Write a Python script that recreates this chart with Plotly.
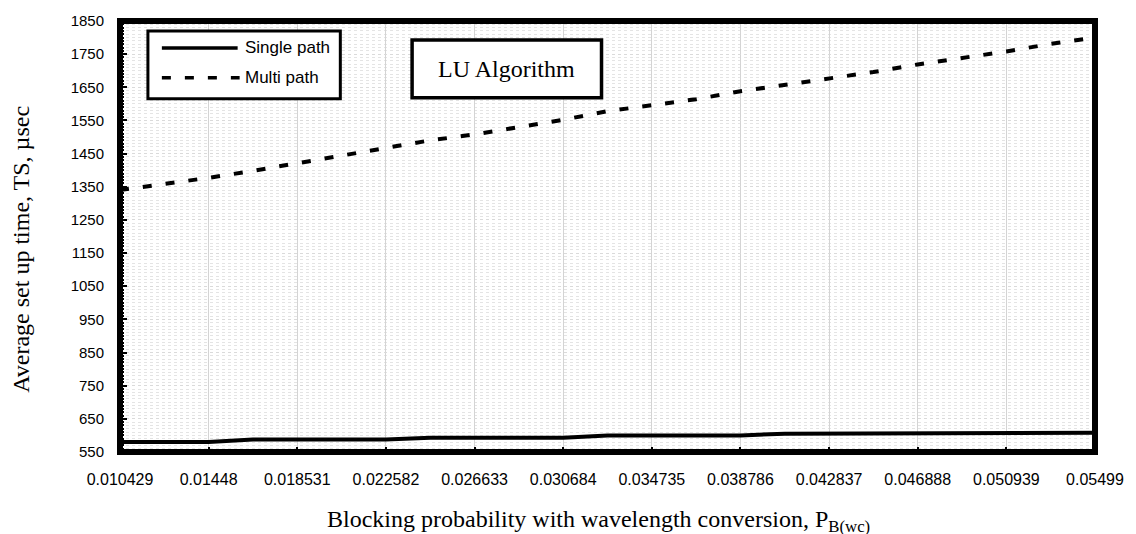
import plotly.graph_objects as go

# Blocking probability with wavelength conversion (category positions)
p_bwc = [0.010429, 0.012454, 0.01448, 0.016505, 0.018531, 0.020556, 0.022582,
         0.024607, 0.026633, 0.028658, 0.030684, 0.032709, 0.034735, 0.03676,
         0.038786, 0.040811, 0.042837, 0.044862, 0.046888, 0.048913, 0.050939,
         0.052964, 0.05499]

# Average set-up time (usec)
single_path = [580, 580, 580, 588, 588, 588, 588, 593, 593, 593, 593, 600,
               600, 600, 600, 605, 605, 605, 605, 605, 605, 606.5, 608]
multi_path = [1340, 1358, 1377, 1398, 1421, 1445, 1468, 1490, 1508, 1529, 1552,
              1578, 1596, 1614, 1638, 1657, 1677, 1696, 1719, 1737, 1758, 1781, 1800]

# Labelled ticks on the x axis
x_tick_labels = ["0.010429", "0.01448", "0.018531", "0.022582", "0.026633",
                 "0.030684", "0.034735", "0.038786", "0.042837", "0.046888",
                 "0.050939", "0.05499"]
x_tick_vals = [float(t) for t in x_tick_labels]

SANS = "Arial, Liberation Sans, sans-serif"
SERIF = "Times New Roman, Liberation Serif, serif"

# plot-area geometry in pixels (used for paper-coordinate helpers)
L, R, T, B = 120, 38, 20, 82
W, H = 1136, 534
PW, PH = W - L - R, H - T - B


def px(x):
    return (x - L) / PW


def py(y):
    return (H - B - y) / PH


fig = go.Figure()
fig.add_trace(go.Scatter(x=p_bwc, y=single_path, mode="lines", name="Single path",
                         line=dict(color="black", width=4), showlegend=False))
fig.add_trace(go.Scatter(x=p_bwc, y=multi_path, mode="lines", name="Multi path",
                         line=dict(color="black", width=4, dash="9px,14px"),
                         showlegend=False))

shapes = [
    # thick frame round the plot area
    dict(type="rect", xref="paper", yref="paper", x0=0, x1=1, y0=0, y1=1,
         line=dict(color="black", width=6), layer="above"),
    # legend box
    dict(type="rect", xref="paper", yref="paper", x0=px(148), x1=px(341),
         y0=py(98), y1=py(30), line=dict(color="black", width=3),
         fillcolor="white", layer="above"),
    dict(type="line", xref="paper", yref="paper", x0=px(162), x1=px(238),
         y0=py(47), y1=py(47), line=dict(color="black", width=3.5), layer="above"),
    dict(type="line", xref="paper", yref="paper", x0=px(162), x1=px(240),
         y0=py(77), y1=py(77), line=dict(color="black", width=3.5, dash="9px,14px"),
         layer="above"),
    # title box
    dict(type="rect", xref="paper", yref="paper", x0=px(413), x1=px(603),
         y0=py(97), y1=py(39), line=dict(color="black", width=3.5),
         fillcolor="white", layer="above"),
]

annotations = [
    dict(text="Single path", xref="paper", yref="paper", x=px(243), y=py(47),
         xanchor="left", yanchor="middle", showarrow=False,
         font=dict(family=SANS, size=17, color="black")),
    dict(text="Multi path", xref="paper", yref="paper", x=px(243), y=py(77),
         xanchor="left", yanchor="middle", showarrow=False,
         font=dict(family=SANS, size=17, color="black")),
    dict(text="LU Algorithm", xref="paper", yref="paper", x=px(508), y=py(68),
         xanchor="center", yanchor="middle", showarrow=False,
         font=dict(family=SERIF, size=24, color="black")),
    dict(text="Blocking probability with wavelength conversion, P<sub>B(wc)</sub>",
         xref="paper", yref="paper", x=px(600), y=py(521),
         xanchor="center", yanchor="middle", showarrow=False,
         font=dict(family=SERIF, size=24, color="black")),
    dict(text="Average set up time, TS, \u00b5sec", xref="paper", yref="paper",
         x=px(21), y=py(249), xanchor="center", yanchor="middle", textangle=-90,
         showarrow=False, font=dict(family=SERIF, size=24, color="black")),
]

fig.update_layout(
    width=W, height=H,
    margin=dict(l=L, r=R, t=T, b=B),
    paper_bgcolor="white", plot_bgcolor="white",
    shapes=shapes, annotations=annotations,
    showlegend=False,
)

fig.update_xaxes(
    range=[p_bwc[0], p_bwc[-1]],
    tickmode="array", tickvals=x_tick_vals, ticktext=x_tick_labels,
    showgrid=True, gridcolor="#d4d4d4", gridwidth=1,
    ticks="inside", ticklen=5, tickcolor="black", tickwidth=1.5,
    showline=False, zeroline=False,
    tickfont=dict(family=SANS, size=16, color="black"),
    ticklabelstandoff=16,
)

fig.update_yaxes(
    range=[550, 1850], tick0=550, dtick=100,
    showgrid=True, gridcolor="#dadada", gridwidth=1, griddash="dot",
    ticks="inside", ticklen=7, tickcolor="black", tickwidth=1.5,
    minor=dict(dtick=10, showgrid=True, gridcolor="#e4e4e4", griddash="dot",
               ticks="inside", ticklen=4, tickcolor="black"),
    showline=False, zeroline=False,
    tickfont=dict(family=SANS, size=15, color="black"),
    ticklabelstandoff=15,
)

fig.write_html("out.html")
